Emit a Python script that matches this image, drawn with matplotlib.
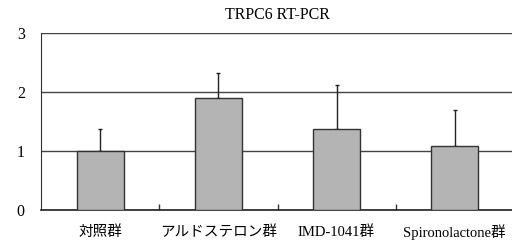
import matplotlib
matplotlib.use('Agg')
import matplotlib.pyplot as plt
import numpy as np

# data
groups = ['対照群', 'アルドステロン群', 'IMD-1041群', 'Spironolactone群']
means = [1.00, 1.90, 1.38, 1.09]
errors = [0.38, 0.43, 0.73, 0.61]
yticks = [0, 1, 2, 3]

plt.rcParams['font.family'] = ['Liberation Serif', 'Noto Sans CJK JP']

fig = plt.figure(figsize=(5.12, 2.44), dpi=100)
ax = fig.add_axes([0.081, 0.139, 0.922, 0.726])

x = np.arange(len(groups)) + 0.5
ax.bar(x, means, width=0.4, color='#b4b4b4', edgecolor='#333333', linewidth=1.0, zorder=3)
ax.errorbar(x, means, yerr=[np.zeros(len(errors)), errors], fmt='none',
            ecolor='#222222', elinewidth=1.0, capsize=1.5, capthick=1.0, zorder=2)

ax.set_xlim(0, len(groups))
ax.set_ylim(0, 3)
ax.set_yticks(yticks)
ax.set_yticklabels([str(v) for v in yticks], fontsize=11.5)
ax.tick_params(axis='y', length=0, pad=12)
ax.yaxis.grid(True, color='#444444', linewidth=1.0, zorder=0)
ax.set_axisbelow(True)

ax.set_xticks(x)
ax.set_xticklabels(groups, fontsize=10.5, va='center')
ax.tick_params(axis='x', length=0, pad=16)
# small inward marks at the category boundaries
ax.set_xticks(np.arange(1, len(groups)), minor=True)
ax.tick_params(axis='x', which='minor', direction='in', length=4, width=1, color='#333333')

for side in ['top', 'right']:
    ax.spines[side].set_visible(False)
ax.spines['left'].set_color('#333333')
ax.spines['bottom'].set_color('#222222')
ax.spines['bottom'].set_linewidth(1.2)

ax.set_title('TRPC6 RT-PCR', fontsize=11.5, pad=10)

plt.savefig('out.png', dpi=100)
